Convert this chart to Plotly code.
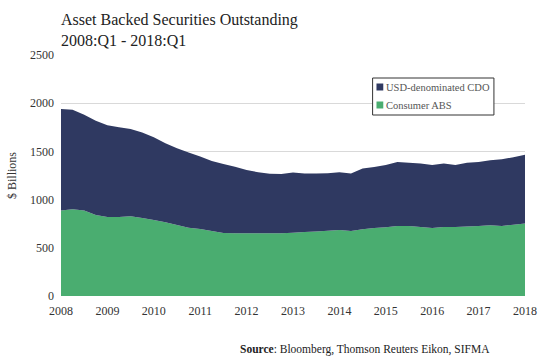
import plotly.graph_objects as go

years_q = [2008 + i / 4 for i in range(41)]
consumer_abs = [886, 900, 886, 841, 820, 820, 827, 810, 789, 765, 737, 709, 695, 675, 654, 650, 650, 650, 650, 650,
                657, 664, 668, 678, 685, 675, 692, 706, 713, 727, 727, 716, 706, 716, 716, 720, 727, 734, 727, 740, 751]
usd_cdo = [1055, 1031, 993, 976, 952, 931, 906, 885, 858, 820, 796, 779, 751, 726, 716, 692, 658, 634, 618, 616,
           623, 606, 602, 595, 599, 595, 630, 633, 647, 664, 654, 658, 654, 658, 644, 661, 664, 674, 692, 699, 713]
tick_years = list(range(2008, 2019))
legend_names = ["USD-denominated CDO", "Consumer ABS"]

FONT = "Liberation Serif"
GREEN = "#4aad70"
NAVY = "#2f3961"
legend_colors = [NAVY, GREEN]

L, T, W_PLOT, H_PLOT = 59, 55, 478.0, 241.0
B = T + H_PLOT


def px(x):
    return (x - L) / W_PLOT


def py(y):
    return (B - y) / H_PLOT


fig = go.Figure()
fig.add_trace(go.Scatter(x=years_q, y=consumer_abs, name="Consumer ABS", stackgroup="one",
                         mode="none", fillcolor=GREEN, showlegend=False))
fig.add_trace(go.Scatter(x=years_q, y=usd_cdo, name="USD-denominated CDO", stackgroup="one",
                         mode="none", fillcolor=NAVY, showlegend=False))

shapes = [dict(type="rect", xref="paper", yref="paper", x0=px(380), x1=px(505), y0=py(78), y1=py(115),
               line=dict(color="#333333", width=1), fillcolor="white", layer="above")]
annotations = []
for i, (name, col) in enumerate(zip(legend_names, legend_colors)):
    cy = 87 + i * 18
    shapes.append(dict(type="rect", xref="paper", yref="paper", x0=px(384), x1=px(391),
                       y0=py(cy - 3.5), y1=py(cy + 3.5), line=dict(width=0), fillcolor=col, layer="above"))
    annotations.append(dict(text=name, xref="paper", yref="paper", x=px(392), y=py(cy),
                            xanchor="left", yanchor="middle", showarrow=False,
                            font=dict(family=FONT, size=10.5, color="#555555")))

annotations += [
    dict(text="Asset Backed Securities Outstanding<br>2008:Q1 - 2018:Q1",
         xref="paper", yref="paper", x=px(57), y=py(9),
         xanchor="left", yanchor="top", align="left", showarrow=False,
         font=dict(family=FONT, size=16, color="#222222")),
    dict(text="<b>Source</b>: Bloomberg, Thomson Reuters Eikon, SIFMA",
         xref="paper", yref="paper", x=px(503), y=py(349),
         xanchor="right", yanchor="middle", showarrow=False,
         font=dict(family=FONT, size=11.5, color="#222222")),
]

fig.update_layout(
    width=549, height=356,
    margin=dict(l=L, r=12, t=T, b=60),
    paper_bgcolor="white", plot_bgcolor="white",
    font=dict(family=FONT, color="#333333", size=11),
    showlegend=False,
    xaxis=dict(range=[2008, 2018], tickvals=tick_years, ticktext=[str(y) for y in tick_years],
               showgrid=False, zeroline=False, showline=False, ticks="", ticklabelstandoff=6,
               tickfont=dict(family=FONT, size=12, color="#333333")),
    yaxis=dict(range=[0, 2500], dtick=500, showgrid=True, gridcolor="#d9d9d9", gridwidth=1,
               zeroline=False, ticks="", ticklabelstandoff=6,
               tickfont=dict(family=FONT, size=12, color="#333333"),
               title=dict(text="$ Billions", font=dict(family=FONT, size=12, color="#333333"), standoff=10)),
    shapes=shapes,
    annotations=annotations,
)

fig.write_html("out.html")
